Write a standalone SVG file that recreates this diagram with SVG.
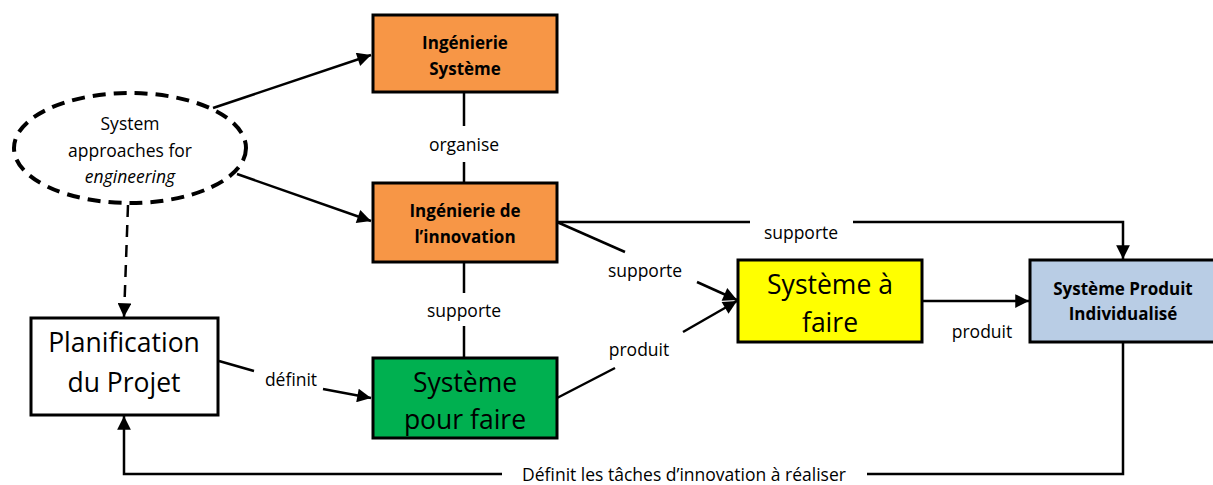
<svg xmlns="http://www.w3.org/2000/svg" width="1213" height="485" viewBox="0 0 1213 485">
<style>
.box{stroke:#000;stroke-width:3}
.c{fill:none;stroke:#000;stroke-width:2.5}
.t{font-family:"Open Sans","Liberation Sans",sans-serif;fill:#000;text-anchor:middle}
.b{font-weight:bold;font-size:17px}
.big{font-size:26.5px}
.lbl{font-size:17.5px}
</style>
<defs>
<marker id="ah" viewBox="0 0 10 10" refX="10" refY="5" markerWidth="6" markerHeight="5.5" markerUnits="strokeWidth" orient="auto">
<path d="M0,0 L10,5 L0,10 Z" fill="#000"/>
</marker>
</defs>
<rect width="1213" height="485" fill="#fff"/>
<g id="connectors">
<line class="c" x1="213" y1="108" x2="371" y2="55" marker-end="url(#ah)"/>
<line class="c" x1="237" y1="174" x2="371" y2="221" marker-end="url(#ah)"/>
<line class="c" x1="128" y1="205" x2="124" y2="317" stroke-dasharray="12 8" marker-end="url(#ah)"/>
<line class="c" x1="464" y1="92" x2="464" y2="126"/>
<line class="c" x1="464" y1="162" x2="464" y2="183"/>
<line class="c" x1="464" y1="262" x2="464" y2="293"/>
<line class="c" x1="464" y1="326" x2="464" y2="358"/>
<line class="c" x1="219" y1="361" x2="254" y2="371"/>
<line class="c" x1="323" y1="389" x2="371" y2="398" marker-end="url(#ah)"/>
<polyline class="c" points="557,222 750,222"/>
<polyline class="c" points="853,222 1123,222 1123,259" marker-end="url(#ah)"/>
<line class="c" x1="557" y1="222" x2="625" y2="252"/>
<line class="c" x1="697" y1="282" x2="737" y2="300" marker-end="url(#ah)"/>
<line class="c" x1="557" y1="398" x2="615" y2="368"/>
<line class="c" x1="683" y1="332" x2="737" y2="301" marker-end="url(#ah)"/>
<line class="c" x1="922" y1="301" x2="1029" y2="301" marker-end="url(#ah)"/>
<polyline class="c" points="1123,342 1123,474 867,474"/>
<polyline class="c" points="502,474 124,474 124,416" marker-end="url(#ah)"/>
<text class="t lbl" x="464" y="151">organise</text>
<text class="t lbl" x="464" y="317">supporte</text>
<text class="t lbl" x="291" y="386">définit</text>
<text class="t lbl" x="645" y="277">supporte</text>
<text class="t lbl" x="639" y="356">produit</text>
<text class="t lbl" x="801" y="239">supporte</text>
<text class="t lbl" x="982" y="338">produit</text>
<text class="t lbl" x="684" y="481">Définit les tâches d’innovation à réaliser</text>
</g>
<g id="ellipse">
<ellipse cx="130" cy="148" rx="116" ry="55" fill="#fff" stroke="#000" stroke-width="4" stroke-dasharray="13 8"/>
<text class="t lbl" x="130" y="130">System</text>
<text class="t lbl" x="130" y="157">approaches for</text>
<text class="t lbl" x="130" y="183" font-style="italic">engineering</text>
</g>
<g id="ing-sys">
<rect class="box" x="373" y="15" width="184" height="77" fill="#F79646"/>
<text class="t b" x="465" y="49">Ingénierie</text>
<text class="t b" x="465" y="75">Système</text>
</g>
<g id="ing-innov">
<rect class="box" x="373" y="183" width="184" height="79" fill="#F79646"/>
<text class="t b" x="465" y="217">Ingénierie de</text>
<text class="t b" x="465" y="243">l’innovation</text>
</g>
<g id="planif">
<rect class="box" x="31" y="318" width="187" height="97" fill="#fff"/>
<text class="t big" x="124" y="352">Planification</text>
<text class="t big" x="124" y="392">du Projet</text>
</g>
<g id="sys-pour">
<rect class="box" x="373" y="358" width="184" height="80" fill="#00B050"/>
<text class="t big" x="465" y="392">Système</text>
<text class="t big" x="465" y="429">pour faire</text>
</g>
<g id="sys-a">
<rect class="box" x="738" y="260" width="184" height="82" fill="#FFFF00"/>
<text class="t big" x="830" y="294">Système à</text>
<text class="t big" x="830" y="332">faire</text>
</g>
<g id="sys-prod">
<rect class="box" x="1030" y="260" width="185" height="82" fill="#B9CDE5"/>
<text class="t b" x="1123" y="295">Système Produit</text>
<text class="t b" x="1123" y="320">Individualisé</text>
</g>
</svg>
